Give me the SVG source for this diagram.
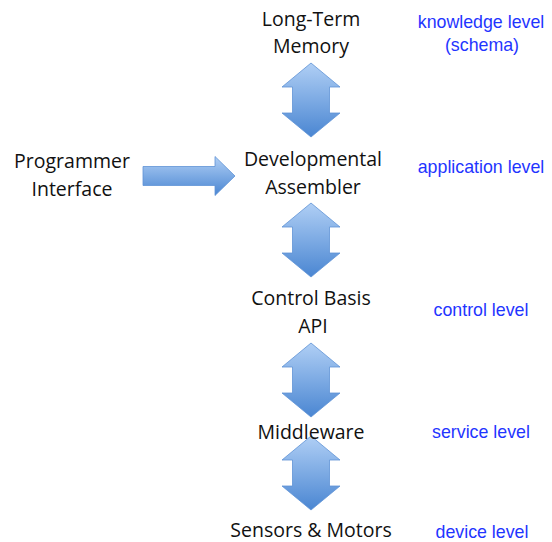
<svg xmlns="http://www.w3.org/2000/svg" width="552" height="542" viewBox="0 0 552 542">
<style>
.lbl{font-family:"Open Sans","Liberation Sans",sans-serif;font-size:19.5px;fill:#111;text-anchor:middle}
.lvl{font-family:"Liberation Sans",Arial,sans-serif;font-size:17.8px;fill:#1f35ff;text-anchor:middle}
.arr{fill:url(#g);stroke:#5f93d6;stroke-width:0.8}
</style>
<defs>
<linearGradient id="g" x1="0" y1="0" x2="0" y2="1">
<stop offset="0" stop-color="#b0cff5"/>
<stop offset="1" stop-color="#4a86d2"/>
</linearGradient>
<path id="ud" d="M0,0 L29,24 L18.5,24 L18.5,50 L29,50 L0,74 L-29,50 L-18.5,50 L-18.5,24 L-29,24 Z"/>
</defs>
<rect width="552" height="542" fill="#fff"/>
<g id="connectors">
<use href="#ud" class="arr" x="311" y="63"/>
<use href="#ud" class="arr" x="311" y="203"/>
<use href="#ud" class="arr" x="311" y="343"/>
<use href="#ud" class="arr" x="311" y="436"/>
<path class="arr" d="M143,166.5 L215,166.5 L215,156.5 L235,176 L215,195.5 L215,185.5 L143,185.5 Z"/>
</g>
<g id="ltm"><text class="lbl" x="311" y="26">Long-Term</text><text class="lbl" x="311" y="53">Memory</text></g>
<g id="prog"><text class="lbl" x="72" y="168">Programmer</text><text class="lbl" x="72" y="196">Interface</text></g>
<g id="dev"><text class="lbl" x="313" y="166">Developmental</text><text class="lbl" x="313" y="194">Assembler</text></g>
<g id="cb"><text class="lbl" x="311" y="305">Control Basis</text><text class="lbl" x="313" y="333">API</text></g>
<g id="mw"><text class="lbl" x="311" y="439">Middleware</text></g>
<g id="sm"><text class="lbl" x="311" y="537">Sensors &amp; Motors</text></g>
<g id="levels">
<text class="lvl" x="481" y="28">knowledge level</text>
<text class="lvl" x="482" y="51">(schema)</text>
<text class="lvl" x="481" y="173">application level</text>
<text class="lvl" x="481" y="316">control level</text>
<text class="lvl" x="481" y="438">service level</text>
<text class="lvl" x="482" y="538">device level</text>
</g>
</svg>
